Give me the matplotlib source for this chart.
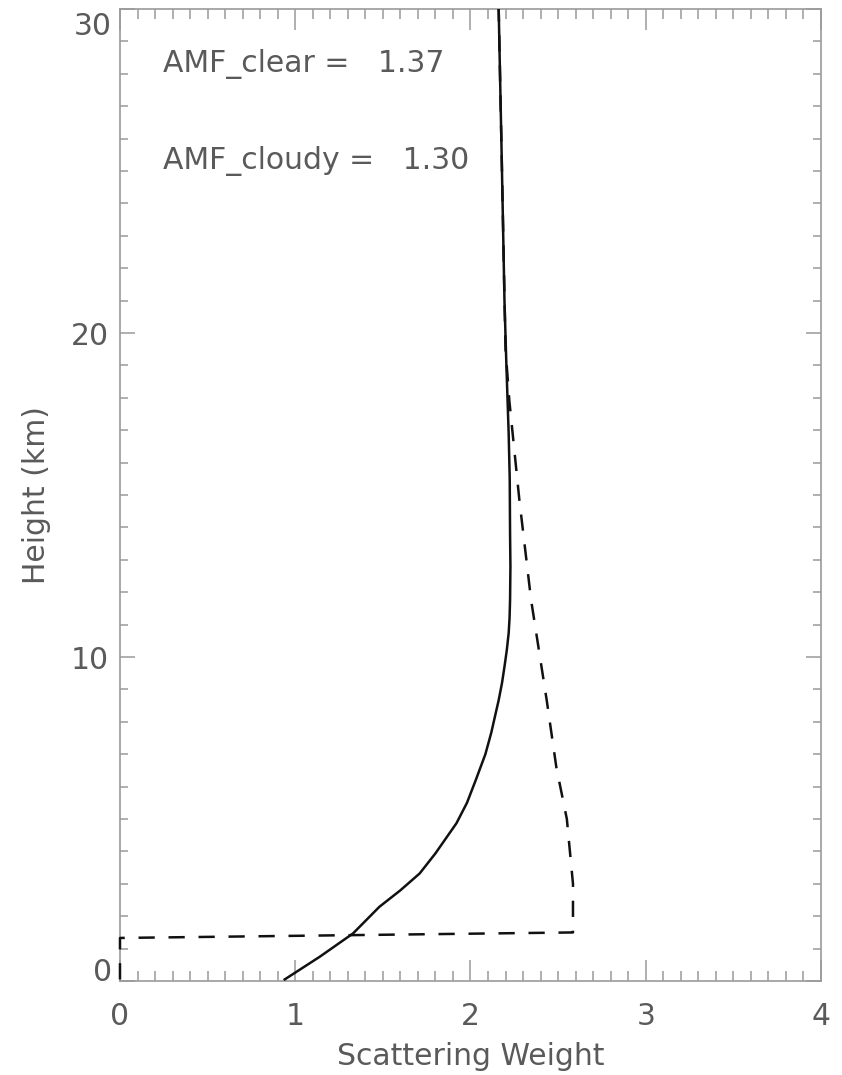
import matplotlib
matplotlib.use("Agg")
import matplotlib.pyplot as plt
from matplotlib.ticker import MultipleLocator, FixedFormatter

# scattering weight profiles
clear_sw = [0.94, 1.14, 1.33, 1.48, 1.60, 1.71, 1.80, 1.92, 1.98, 2.03, 2.085,
            2.118, 2.161, 2.18, 2.194, 2.207, 2.218, 2.223, 2.226, 2.228, 2.226,
            2.224, 2.218, 2.205, 2.194, 2.178, 2.161]
clear_h = [0.05, 0.75, 1.47, 2.29, 2.8, 3.32, 3.94, 4.87, 5.5, 6.2, 7.0,
           7.65, 8.67, 9.2, 9.7, 10.2, 10.74, 11.2, 11.76, 12.8, 13.8,
           15.5, 16.9, 19.0, 21.0, 25.5, 30.0]

cloudy_sw = [0.0, 0.0, 2.585, 2.585, 2.55, 2.49, 2.435, 2.346, 2.279,
             2.222, 2.20, 2.178, 2.161]
cloudy_h = [0.05, 1.33, 1.50, 3.0, 5.0, 6.6, 8.67, 11.76, 14.85,
            17.9, 19.5, 25.5, 30.0]

y_ticks = [0, 10, 20, 30]
y_ticklabels = ['0', '10', '20', '30']

amf_clear = 1.37
amf_cloudy = 1.30

grey_axis = '#9a9a9a'
grey_text = '#5a5a5a'

fig = plt.figure(figsize=(8.42, 10.75), dpi=100)
ax = fig.add_axes([0.1425, 0.0874, 0.8325, 0.9042])

ax.plot(clear_sw, clear_h, color='#111111', linewidth=1.8, zorder=4)
ax.plot(cloudy_sw, cloudy_h, color='#111111', linewidth=1.8, dashes=(6.5, 5.5),
        clip_on=False, zorder=4)

ax.set_xlim(0, 4)
ax.set_ylim(0, 30)
ax.xaxis.set_major_locator(MultipleLocator(1))
ax.xaxis.set_minor_locator(MultipleLocator(0.1))
ax.set_yticks(y_ticks)
# the two end labels are drawn by hand below so they stay inside the axis height
ax.yaxis.set_major_formatter(FixedFormatter([''] + y_ticklabels[1:-1] + ['']))
ax.yaxis.set_minor_locator(MultipleLocator(1))

for s in ax.spines.values():
    s.set_color(grey_axis)
    s.set_linewidth(1.2)

fs = 21.5
ax.tick_params(axis='x', which='major', direction='in', length=15, width=1.1,
               color=grey_axis, top=True, labelsize=fs, labelcolor=grey_text, pad=15)
ax.tick_params(axis='x', which='minor', direction='in', length=7.5, width=1.1,
               color=grey_axis, top=True)
ax.tick_params(axis='y', which='major', direction='in', length=11, width=1.1,
               color=grey_axis, right=True, labelsize=fs, labelcolor=grey_text, pad=8)
ax.tick_params(axis='y', which='minor', direction='in', length=6, width=1.1,
               color=grey_axis, right=True)

ax.annotate(y_ticklabels[0], xy=(0, y_ticks[0]), xycoords=('axes fraction', 'data'),
            xytext=(-6, 0), textcoords='offset points', ha='right', va='baseline',
            fontsize=fs, color=grey_text)
ax.annotate(y_ticklabels[-1], xy=(0, y_ticks[-1]), xycoords=('axes fraction', 'data'),
            xytext=(-6, -2), textcoords='offset points', ha='right', va='top',
            fontsize=fs, color=grey_text)

ax.set_xlabel('Scattering Weight', fontsize=fs, color=grey_text, labelpad=8)
ax.set_ylabel('Height (km)', fontsize=fs, color=grey_text, labelpad=14)

ax.text(0.245, 28.3, 'AMF_clear =   %.2f' % amf_clear, fontsize=fs,
        color=grey_text, va='center', ha='left')
ax.text(0.245, 25.3, 'AMF_cloudy =   %.2f' % amf_cloudy, fontsize=fs,
        color=grey_text, va='center', ha='left')

plt.savefig('out.png', dpi=100)
